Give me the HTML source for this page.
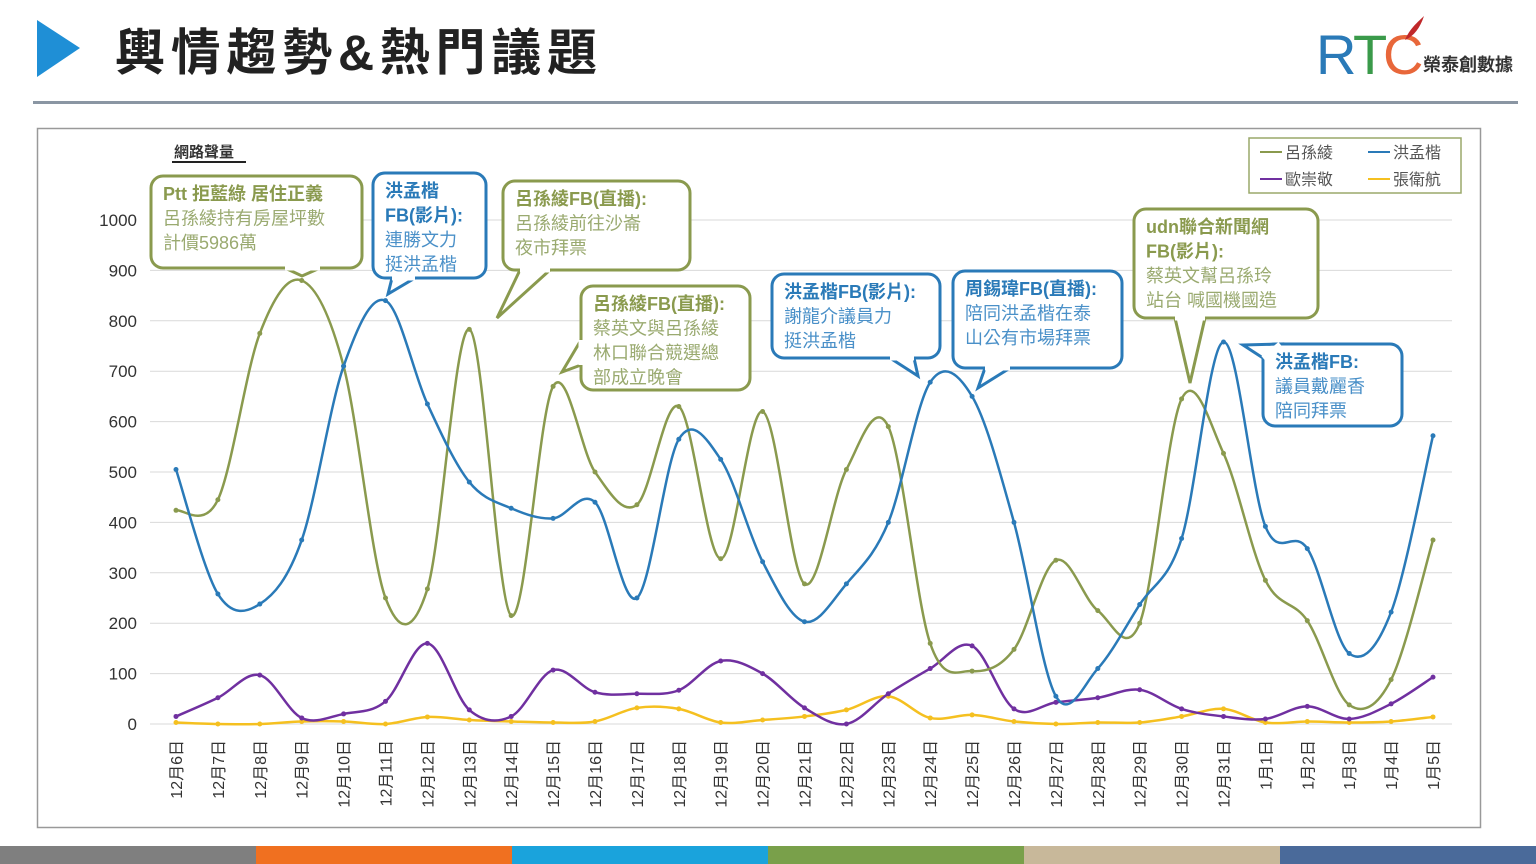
<!DOCTYPE html>
<html><head><meta charset="utf-8"><style>
html,body{margin:0;padding:0;background:#fff;}
body{width:1536px;height:864px;overflow:hidden;position:relative;font-family:"Liberation Sans","Noto Sans CJK TC",sans-serif;}
</style></head><body>
<svg id="s" width="1536" height="864" xmlns="http://www.w3.org/2000/svg" style="position:absolute;left:0;top:0;font-family:'Liberation Sans','Noto Sans CJK TC',sans-serif">
<polygon points="37,20 80,48 37,77" fill="#1f8fd6"/>
<text x="115" y="70" font-size="50" font-weight="bold" fill="#222" textLength="482" lengthAdjust="spacing">輿情趨勢&amp;熱門議題</text>
<text x="1316" y="74" font-size="56" fill="#2a7ab8" letter-spacing="-4">R</text>
<text x="1353" y="74" font-size="56" fill="#3a9a4a">T</text>
<text x="1383" y="74" font-size="56" fill="#e8673a">C</text>
<path d="M1405,40 C1410,28 1418,22 1424,16 C1420,28 1414,36 1405,40Z" fill="#c0282a"/>
<text x="1423" y="71" font-size="18" font-weight="bold" fill="#333">榮泰創數據</text>
<rect x="33" y="101" width="1485" height="3" fill="#8a96a3"/>
<rect x="37.5" y="128.5" width="1443" height="699" fill="none" stroke="#999" stroke-width="1.5"/>
<text x="174" y="157" font-size="15" font-weight="bold" fill="#333">網路聲量</text>
<rect x="172" y="161" width="74" height="2" fill="#222"/>
<g id="grid"></g><g id="series"></g><g id="calls"></g>
<rect x="1249" y="138" width="212" height="55" fill="#fff" stroke="#9aa86a" stroke-width="1.5"/>
<g font-size="16" fill="#555">
<line x1="1260" y1="152" x2="1282" y2="152" stroke="#8a9a4e" stroke-width="2"/><text x="1285" y="158">呂孫綾</text>
<line x1="1368" y1="152" x2="1390" y2="152" stroke="#2a7ab8" stroke-width="2"/><text x="1393" y="158">洪孟楷</text>
<line x1="1260" y1="179" x2="1282" y2="179" stroke="#7030a0" stroke-width="2"/><text x="1285" y="185">歐崇敬</text>
<line x1="1368" y1="179" x2="1390" y2="179" stroke="#f5c020" stroke-width="2"/><text x="1393" y="185">張衛航</text>
</g>
<rect x="0" y="846" width="256" height="18" fill="#7f7f7f"/>
<rect x="256" y="846" width="256" height="18" fill="#f07020"/>
<rect x="512" y="846" width="256" height="18" fill="#1aa3dc"/>
<rect x="768" y="846" width="256" height="18" fill="#79a04a"/>
<rect x="1024" y="846" width="256" height="18" fill="#c8b89a"/>
<rect x="1280" y="846" width="256" height="18" fill="#4a6a9a"/>
</svg>
<script>
var NS="http://www.w3.org/2000/svg";
function el(p,t,a,txt){var e=document.createElementNS(NS,t);for(var k in a)e.setAttribute(k,a[k]);if(txt!=null)e.textContent=txt;p.appendChild(e);return e;}
var X0=176,DX=(1433-176)/30;function X(i){return X0+i*DX;}function Y(v){return 724-v*0.504;}
var g=document.getElementById('grid');
for(var v=0;v<=1000;v+=100){el(g,'line',{x1:150,x2:1452,y1:Y(v),y2:Y(v),stroke:'#d9d9d9','stroke-width':1});
el(g,'text',{x:137,y:Y(v)+6,'font-size':17,'text-anchor':'end',fill:'#333'},v);}
var labs=[];for(var d=6;d<=31;d++)labs.push('12月'+d+'日');for(var d=1;d<=5;d++)labs.push('1月'+d+'日');
labs.forEach(function(l,i){el(g,'text',{transform:'translate('+(X(i)+6)+',740) rotate(-90)','font-size':16,'text-anchor':'end',fill:'#333'},l);});
var D={
'#8a9a4e':[424,445,775,880,710,250,268,783,215,670,500,435,630,328,620,278,505,590,160,105,148,325,225,200,645,537,285,205,38,88,365],
'#2a7ab8':[505,258,238,365,710,840,635,480,428,408,440,250,565,525,322,203,278,400,678,650,400,55,110,237,368,758,392,348,140,222,572],
'#7030a0':[15,52,97,12,20,45,160,28,15,107,63,60,67,125,100,32,0,60,110,155,30,43,52,68,30,15,10,35,10,40,93],
'#f5c020':[3,0,0,5,5,0,14,8,5,3,5,32,30,3,8,15,28,55,12,18,5,0,3,3,15,30,3,5,3,5,14]};
var s=document.getElementById('series');
['#f5c020','#7030a0','#8a9a4e','#2a7ab8'].forEach(function(c){var a=D[c],p=a.map(function(v,i){return[X(i),Y(v)];});
var d='M'+p[0][0]+','+p[0][1];for(var i=0;i<p.length-1;i++){var p0=p[i-1]||p[i],p1=p[i],p2=p[i+1],p3=p[i+2]||p2,t=6;
d+='C'+(p1[0]+(p2[0]-p0[0])/t)+','+(p1[1]+(p2[1]-p0[1])/t)+' '+(p2[0]-(p3[0]-p1[0])/t)+','+(p2[1]-(p3[1]-p1[1])/t)+' '+p2[0]+','+p2[1];}
el(s,'path',{d:d,fill:'none',stroke:c,'stroke-width':2.5});
p.forEach(function(q){el(s,'circle',{cx:q[0],cy:q[1],r:2.5,fill:c});});});
var cg=document.getElementById('calls');
function call(x,y,w,h,c,tail,lines){
el(cg,'rect',{x:x,y:y,width:w,height:h,rx:12,fill:'#fff',stroke:c,'stroke-width':3});
el(cg,'polygon',{points:tail.map(function(q){return q.join(',')}).join(' '),fill:'#fff',stroke:c,'stroke-width':3,'stroke-linejoin':'miter'});
el(cg,'line',{x1:tail[0][0],y1:tail[0][1],x2:tail[2][0],y2:tail[2][1],stroke:'#fff','stroke-width':5});
var gc=c=='#8a9a4e'?'#9aaa70':'#4a90c8';
lines.forEach(function(l,i){el(cg,'text',{x:x+12,y:y+24+i*24.5,'font-size':18,'font-weight':i<l[1]?'bold':'normal',fill:i<l[1]?c:gc},l[0]);});}
var G='#8a9a4e',B='#2a7ab8';
function L(a,n){return a.map(function(t){return[t,n];});}
call(151,176,211,92,G,[[285,268],[302,276],[320,268]],L(['Ptt 拒藍綠 居住正義','呂孫綾持有房屋坪數','計價5986萬'],1));
call(373,173,113,105,B,[[392,278],[388,294],[415,278]],L(['洪孟楷','FB(影片):','連勝文力','挺洪孟楷'],2));
call(503,181,187,89,G,[[520,270],[497,318],[550,270]],L(['呂孫綾FB(直播):','呂孫綾前往沙崙','夜市拜票'],1));
call(581,286,169,104,G,[[581,340],[562,372],[581,365]],L(['呂孫綾FB(直播):','蔡英文與呂孫綾','林口聯合競選總','部成立晚會'],1));
call(772,274,168,84,B,[[890,358],[918,376],[914,358]],L(['洪孟楷FB(影片):','謝龍介議員力','挺洪孟楷'],1));
call(953,271,169,97,B,[[985,368],[978,388],[1010,368]],L(['周錫瑋FB(直播):','陪同洪孟楷在泰','山公有市場拜票'],1));
call(1134,209,184,109,G,[[1175,318],[1190,383],[1205,318]],L(['udn聯合新聞網','FB(影片):','蔡英文幫呂孫玲','站台 喊國機國造'],2));
call(1263,344,139,82,B,[[1263,358],[1243,345],[1280,344]],L(['洪孟楷FB:','議員戴麗香','陪同拜票'],1));
</script>
</body></html>
